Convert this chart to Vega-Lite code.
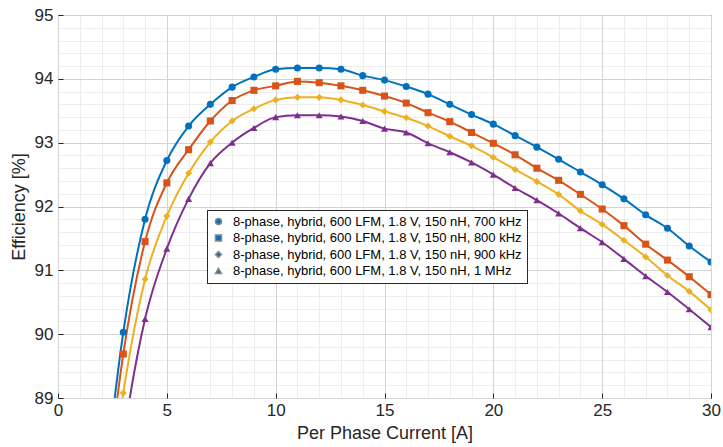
{
  "$schema": "https://vega.github.io/schema/vega-lite/v6.json",
  "width": 653,
  "height": 383,
  "autosize": {"type": "none"},
  "padding": {"left": 58, "top": 15, "right": 12, "bottom": 49},
  "config": {
    "font": "Liberation Sans",
    "view": {"stroke": "#262626", "strokeWidth": 1},
    "axis": {
      "labelFont": "Liberation Sans",
      "titleFont": "Liberation Sans",
      "labelColor": "#262626",
      "titleColor": "#262626",
      "tickColor": "#262626",
      "labelFontSize": 17,
      "titleFontSize": 18,
      "titleFontWeight": "normal",
      "domain": false,
      "labelOverlap": false,
      "labelFlush": false
    }
  },
  "data": {
    "values": [
      {"I": 2, "700 kHz": 87.2, "800 kHz": 86.9, "900 kHz": 86.5, "1 MHz": 85.6},
      {"I": 3, "700 kHz": 90.03, "800 kHz": 89.69, "900 kHz": 89.08, "1 MHz": 88.35},
      {"I": 4, "700 kHz": 91.8, "800 kHz": 91.45, "900 kHz": 90.86, "1 MHz": 90.24},
      {"I": 5, "700 kHz": 92.72, "800 kHz": 92.37, "900 kHz": 91.85, "1 MHz": 91.34},
      {"I": 6, "700 kHz": 93.26, "800 kHz": 92.89, "900 kHz": 92.52, "1 MHz": 92.12},
      {"I": 7, "700 kHz": 93.6, "800 kHz": 93.34, "900 kHz": 93.01, "1 MHz": 92.68},
      {"I": 8, "700 kHz": 93.87, "800 kHz": 93.66, "900 kHz": 93.34, "1 MHz": 93.0},
      {"I": 9, "700 kHz": 94.03, "800 kHz": 93.82, "900 kHz": 93.53, "1 MHz": 93.23},
      {"I": 10, "700 kHz": 94.15, "800 kHz": 93.89, "900 kHz": 93.67, "1 MHz": 93.4},
      {"I": 11, "700 kHz": 94.17, "800 kHz": 93.96, "900 kHz": 93.71, "1 MHz": 93.43},
      {"I": 12, "700 kHz": 94.17, "800 kHz": 93.94, "900 kHz": 93.71, "1 MHz": 93.43},
      {"I": 13, "700 kHz": 94.15, "800 kHz": 93.89, "900 kHz": 93.67, "1 MHz": 93.41},
      {"I": 14, "700 kHz": 94.05, "800 kHz": 93.82, "900 kHz": 93.59, "1 MHz": 93.34},
      {"I": 15, "700 kHz": 93.98, "800 kHz": 93.73, "900 kHz": 93.49, "1 MHz": 93.22},
      {"I": 16, "700 kHz": 93.88, "800 kHz": 93.62, "900 kHz": 93.39, "1 MHz": 93.16},
      {"I": 17, "700 kHz": 93.76, "800 kHz": 93.47, "900 kHz": 93.26, "1 MHz": 92.99},
      {"I": 18, "700 kHz": 93.6, "800 kHz": 93.33, "900 kHz": 93.1, "1 MHz": 92.85},
      {"I": 19, "700 kHz": 93.44, "800 kHz": 93.16, "900 kHz": 92.95, "1 MHz": 92.69},
      {"I": 20, "700 kHz": 93.29, "800 kHz": 92.99, "900 kHz": 92.77, "1 MHz": 92.5},
      {"I": 21, "700 kHz": 93.11, "800 kHz": 92.81, "900 kHz": 92.58, "1 MHz": 92.29},
      {"I": 22, "700 kHz": 92.93, "800 kHz": 92.6, "900 kHz": 92.39, "1 MHz": 92.1},
      {"I": 23, "700 kHz": 92.74, "800 kHz": 92.41, "900 kHz": 92.19, "1 MHz": 91.89},
      {"I": 24, "700 kHz": 92.54, "800 kHz": 92.19, "900 kHz": 91.93, "1 MHz": 91.66},
      {"I": 25, "700 kHz": 92.34, "800 kHz": 91.96, "900 kHz": 91.72, "1 MHz": 91.44},
      {"I": 26, "700 kHz": 92.12, "800 kHz": 91.7, "900 kHz": 91.47, "1 MHz": 91.18},
      {"I": 27, "700 kHz": 91.87, "800 kHz": 91.41, "900 kHz": 91.21, "1 MHz": 90.91},
      {"I": 28, "700 kHz": 91.66, "800 kHz": 91.16, "900 kHz": 90.92, "1 MHz": 90.66},
      {"I": 29, "700 kHz": 91.38, "800 kHz": 90.9, "900 kHz": 90.67, "1 MHz": 90.39},
      {"I": 30, "700 kHz": 91.13, "800 kHz": 90.62, "900 kHz": 90.38, "1 MHz": 90.11}
    ]
  },
  "transform": [
    {"fold": ["700 kHz", "800 kHz", "900 kHz", "1 MHz"], "as": ["series", "eff"]}
  ],
  "encoding": {
    "x": {
      "field": "I", "type": "quantitative",
      "scale": {"domain": [0, 30], "nice": false},
      "axis": {
        "title": "Per Phase Current [A]",
        "values": [0,1,2,3,4,5,6,7,8,9,10,11,12,13,14,15,16,17,18,19,20,21,22,23,24,25,26,27,28,29,30],
        "labelExpr": "datum.value % 5 === 0 ? datum.label : ''",
        "grid": true,
        "gridColor": {"condition": {"test": "datum.value % 5 === 0", "value": "#d4d4d4"}, "value": "#dcdcdc"},
        "gridDash": {"condition": {"test": "datum.value % 5 === 0", "value": []}, "value": [1, 1]},
        "tickOpacity": {"condition": {"test": "datum.value % 5 === 0", "value": 1}, "value": 0},
        "tickSize": -5,
        "labelPadding": 9,
        "titlePadding": 6
      }
    },
    "y": {
      "field": "eff", "type": "quantitative",
      "scale": {"domain": [89, 95], "nice": false, "zero": false},
      "axis": {
        "title": "Efficiency [%]",
        "format": ".0f",
        "values": [89,89.2,89.4,89.6,89.8,90,90.2,90.4,90.6,90.8,91,91.2,91.4,91.6,91.8,92,92.2,92.4,92.6,92.8,93,93.2,93.4,93.6,93.8,94,94.2,94.4,94.6,94.8,95],
        "labelExpr": "abs(datum.value - round(datum.value)) < 0.001 ? datum.label : ''",
        "grid": true,
        "gridColor": {"condition": {"test": "abs(datum.value - round(datum.value)) < 0.001", "value": "#d4d4d4"}, "value": "#dcdcdc"},
        "gridDash": {"condition": {"test": "abs(datum.value - round(datum.value)) < 0.001", "value": []}, "value": [1, 1]},
        "tickOpacity": {"condition": {"test": "abs(datum.value - round(datum.value)) < 0.001", "value": 1}, "value": 0},
        "tickSize": -5,
        "labelPadding": 10,
        "titlePadding": 6
      }
    }
  },
  "layer": [
    {
      "mark": {"type": "line", "interpolate": "monotone", "strokeWidth": 2, "clip": true},
      "encoding": {
        "stroke": {
          "field": "series", "type": "nominal", "sort": ["700 kHz", "800 kHz", "900 kHz", "1 MHz"],
          "scale": {"range": ["#0072BD", "#D95319", "#EDB120", "#7E2F8E"]},
          "legend": null
        }
      }
    },
    {
      "mark": {"type": "point", "filled": true, "opacity": 1, "size": 50, "clip": true},
      "encoding": {
        "color": {
          "field": "series", "type": "nominal", "sort": ["700 kHz", "800 kHz", "900 kHz", "1 MHz"],
          "scale": {"range": ["#0072BD", "#D95319", "#EDB120", "#7E2F8E"]},
          "legend": {
            "title": null, "orient": "none", "legendX": 149, "legendY": 195,
            "labelExpr": "'8-phase, hybrid, 600 LFM, 1.8 V, 150 nH, ' + datum.label",
            "labelFontSize": 13, "labelColor": "#000000", "labelFont": "Liberation Sans",
            "symbolSize": 36, "strokeColor": "#262626", "fillColor": "#ffffff",
            "symbolFillColor": "#0072BD",
            "padding": 5, "rowPadding": 2.5, "labelOffset": 8, "labelLimit": 400
          }
        },
        "shape": {
          "field": "series", "type": "nominal", "sort": ["700 kHz", "800 kHz", "900 kHz", "1 MHz"],
          "scale": {"range": ["circle", "square", "diamond", "triangle-up"]},
          "legend": {
            "title": null, "orient": "none", "legendX": 149, "legendY": 195,
            "labelExpr": "'8-phase, hybrid, 600 LFM, 1.8 V, 150 nH, ' + datum.label",
            "labelFontSize": 13, "labelColor": "#000000", "labelFont": "Liberation Sans",
            "symbolSize": 36, "strokeColor": "#262626", "fillColor": "#ffffff",
            "symbolFillColor": "#0072BD",
            "padding": 5, "rowPadding": 2.5, "labelOffset": 8, "labelLimit": 400
          }
        }
      }
    }
  ]
}
